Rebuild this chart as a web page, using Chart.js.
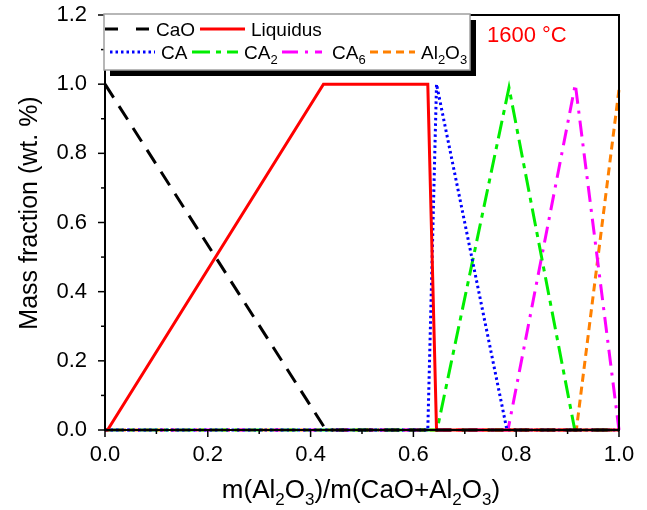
<!DOCTYPE html>
<html>
<head>
<meta charset="utf-8">
<script src="https://cdn.jsdelivr.net/npm/chart.js@4.4.0/dist/chart.umd.min.js"></script>
<style>
  html, body { margin: 0; padding: 0; background: #fff; }
  #wrap { width: 647px; height: 510px; }
</style>
</head>
<body>
<div id="wrap"><canvas id="chart" width="647" height="510"></canvas></div>
<script>
// Phase fractions vs m(Al2O3)/m(CaO+Al2O3) at 1600 C
const xCaO = [0, 0.43, 1];
const yCaO = [1, 0, 0];
const xLiq = [0, 0.005, 0.425, 0.628, 0.645, 1];
const yLiq = [0, 0, 1, 1, 0, 0];
const xCA = [0, 0.628, 0.645, 0.782, 1];
const yCA = [0, 0, 1, 0, 0];
const xCA2 = [0, 0.646, 0.786, 0.914, 1];
const yCA2 = [0, 0, 0.99, 0, 0];
const xCA6 = [0, 0.784, 0.915, 1];
const yCA6 = [0, 0, 1, 0];
const xAl = [0, 0.917, 1];
const yAl = [0, 0, 0.985];

const xTicks = [0, 0.2, 0.4, 0.6, 0.8, 1.0];
const yTicks = [0, 0.2, 0.4, 0.6, 0.8, 1.0, 1.2];

const FONT = '"Liberation Sans", Arial, sans-serif';

function pts(xs, ys) {
    return xs.map((x, i) => ({ x: x, y: ys[i] }));
}

// label / style per series; text parts are [string, isSubscript]
const series = [
    { parts: [['CaO', 0]], xs: xCaO, ys: yCaO, color: '#000000', dash: [16, 10], row: 0 },
    { parts: [['Liquidus', 0]], xs: xLiq, ys: yLiq, color: '#ff0000', dash: [], row: 0 },
    { parts: [['CA', 0]], xs: xCA, ys: yCA, color: '#0000ff', dash: [2.5, 3], row: 1 },
    { parts: [['CA', 0], ['2', 1]], xs: xCA2, ys: yCA2, color: '#00ee00', dash: [18, 6, 5, 6], row: 1 },
    { parts: [['CA', 0], ['6', 1]], xs: xCA6, ys: yCA6, color: '#ff00ff', dash: [16, 7, 3, 7], row: 1 },
    { parts: [['Al', 0], ['2', 1], ['O', 0], ['3', 1]], xs: xAl, ys: yAl, color: '#ff8000', dash: [8, 5], row: 1 }
];

// text with subscripts drawn piece by piece
function drawParts(ctx, parts, x, y, size, subSize, align) {
    let total = 0;
    parts.forEach(p => {
        ctx.font = (p[1] ? subSize : size) + 'px ' + FONT;
        total += ctx.measureText(p[0]).width;
    });
    let cx = align === 'center' ? x - total / 2 : x;
    ctx.textAlign = 'left';
    ctx.textBaseline = 'alphabetic';
    parts.forEach(p => {
        ctx.font = (p[1] ? subSize : size) + 'px ' + FONT;
        ctx.fillText(p[0], cx, p[1] ? y + size * 0.25 : y);
        cx += ctx.measureText(p[0]).width;
    });
}

const decorPlugin = {
    id: 'decor',
    afterDatasetsDraw(chart) {
        const ctx = chart.ctx;
        const a = chart.chartArea;
        const xs = chart.scales.x;
        const ys = chart.scales.y;
        ctx.save();
        ctx.strokeStyle = '#000';
        ctx.lineWidth = 2;
        ctx.setLineDash([]);

        // frame
        ctx.strokeRect(a.left, a.top, a.right - a.left, a.bottom - a.top);

        // major and minor ticks, outward
        ctx.lineWidth = 1.5;
        xs.ticks.forEach(t => {
            const major = Math.round(t.value * 10) % 2 === 0;
            const px = xs.getPixelForValue(t.value);
            ctx.beginPath();
            ctx.moveTo(px, a.bottom);
            ctx.lineTo(px, a.bottom + (major ? 7 : 4));
            ctx.stroke();
        });
        ys.ticks.forEach(t => {
            const major = Math.round(t.value * 10) % 2 === 0;
            const py = ys.getPixelForValue(t.value);
            ctx.beginPath();
            ctx.moveTo(a.left, py);
            ctx.lineTo(a.left - (major ? 7 : 4), py);
            ctx.stroke();
        });

        // axis titles
        ctx.fillStyle = '#000';
        drawParts(ctx, [['m(Al', 0], ['2', 1], ['O', 0], ['3', 1], [')/m(CaO+Al', 0], ['2', 1], ['O', 0], ['3', 1], [')', 0]],
            361, 498, 26, 17, 'center');
        ctx.save();
        ctx.translate(37, 213);
        ctx.rotate(-Math.PI / 2);
        drawParts(ctx, [['Mass fraction (wt. %)', 0]], 0, 0, 25, 16, 'center');
        ctx.restore();

        // temperature label
        ctx.fillStyle = '#ff0000';
        ctx.font = '22px ' + FONT;
        ctx.textAlign = 'left';
        ctx.fillText('1600 \u00b0C', 487, 42);

        // legend box with shadow
        const bx = 104, by = 14, bw = 366, bh = 56;
        ctx.fillStyle = '#000';
        ctx.fillRect(bx + 6, by + 6, bw, bh);
        ctx.fillStyle = '#fff';
        ctx.fillRect(bx, by, bw, bh);
        ctx.strokeStyle = '#a0a0a0';
        ctx.lineWidth = 1.5;
        ctx.strokeRect(bx, by, bw, bh);

        const slots = [
            { x0: 105, x1: 150, tx: 156 },
            { x0: 200, x1: 245, tx: 251 },
            { x0: 110, x1: 155, tx: 161 },
            { x0: 192, x1: 238, tx: 244 },
            { x0: 282, x1: 322, tx: 332 },
            { x0: 370, x1: 415, tx: 421 }
        ];
        series.forEach((s, i) => {
            const sl = slots[i];
            const ly = s.row === 0 ? 29 : 52;
            ctx.strokeStyle = s.color;
            ctx.lineWidth = 3;
            ctx.setLineDash(i === 0 ? [13, 18] : s.dash);
            ctx.beginPath();
            ctx.moveTo(sl.x0, ly);
            ctx.lineTo(sl.x1, ly);
            ctx.stroke();
            ctx.setLineDash([]);
            ctx.fillStyle = '#000';
            drawParts(ctx, s.parts, sl.tx, ly + 7, 19, 13, 'left');
        });
        ctx.restore();
    }
};

new Chart(document.getElementById('chart'), {
    type: 'scatter',
    data: {
        datasets: series.map(s => ({
            label: s.parts.map(p => p[0]).join(''),
            data: pts(s.xs, s.ys),
            showLine: true,
            borderColor: s.color,
            backgroundColor: s.color,
            borderWidth: 3,
            borderDash: s.dash,
            pointRadius: 0,
            tension: 0,
            clip: 4
        }))
    },
    options: {
        responsive: false,
        animation: false,
        layout: { padding: { left: 0, right: 28, top: 15, bottom: 0 } },
        plugins: {
            legend: { display: false },
            tooltip: { enabled: false }
        },
        scales: {
            x: {
                type: 'linear',
                min: 0,
                max: 1,
                grid: { display: false, drawTicks: false },
                border: { display: false },
                ticks: {
                    stepSize: 0.1,
                    padding: 12,
                    color: '#000',
                    font: { family: FONT, size: 22 },
                    maxRotation: 0,
                    autoSkip: false,
                    callback: v => xTicks.some(t => Math.abs(t - v) < 1e-6) ? v.toFixed(1) : ''
                },
                afterFit: scale => {
                    scale.height = 80;
                    scale.paddingLeft = 0;
                    scale.paddingRight = 0;
                }
            },
            y: {
                type: 'linear',
                min: 0,
                max: 1.2,
                grid: { display: false, drawTicks: false },
                border: { display: false },
                ticks: {
                    stepSize: 0.1,
                    padding: 18,
                    color: '#000',
                    font: { family: FONT, size: 22 },
                    autoSkip: false,
                    callback: v => yTicks.some(t => Math.abs(t - v) < 1e-6) ? v.toFixed(1) : ''
                },
                afterFit: scale => {
                    scale.width = 105;
                    scale.paddingTop = 0;
                    scale.paddingBottom = 0;
                }
            }
        }
    },
    plugins: [decorPlugin]
});
</script>
</body>
</html>
